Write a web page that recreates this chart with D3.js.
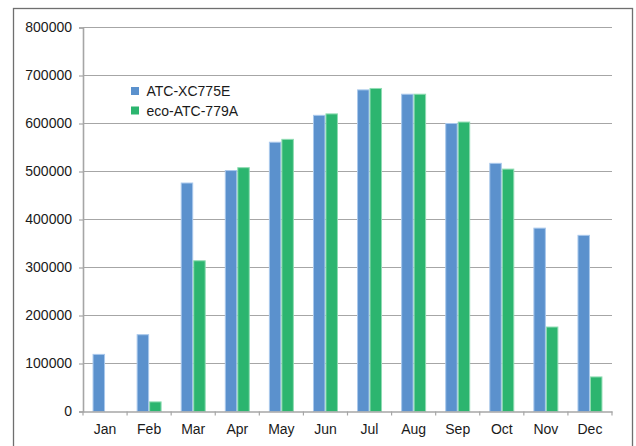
<!DOCTYPE html>
<html>
<head>
<meta charset="utf-8">
<script src="https://cdn.jsdelivr.net/npm/d3@7"></script>
<style>
  body { margin: 0; background: #fff; }
  svg { display: block; font-family: "Liberation Sans", Arial, sans-serif; }
</style>
</head>
<body>
<div id="chart"></div>
<script>
const width = 636;
const height = 446;

const months = ["Jan", "Feb", "Mar", "Apr", "May", "Jun", "Jul", "Aug", "Sep", "Oct", "Nov", "Dec"];
const seriesNames = ["ATC-XC775E", "eco-ATC-779A"];
const atcXC775E = [119000, 160000, 476000, 502000, 561000, 617000, 670000, 661000, 600000, 517000, 382000, 367000];
const ecoATC779A = [0, 20000, 314000, 508000, 567000, 620000, 673000, 661000, 603000, 505000, 176000, 72000];
const yTicks = [0, 100000, 200000, 300000, 400000, 500000, 600000, 700000, 800000];

const colors = ["#5b91cd", "#2cb56f"];
const strokes = ["#a9c8ec", "#8fdcb2"];
const gridColor = "#a6a6a6";

const margin = { top: 27.5, right: 24, bottom: 34.5, left: 83 };

const svg = d3.select("#chart")
    .append("svg")
    .attr("width", width)
    .attr("height", height);

// outer frame (bottom edge runs off the picture)
svg.append("rect")
    .attr("x", 13.5)
    .attr("y", 8.5)
    .attr("width", 619)
    .attr("height", 460)
    .attr("fill", "none")
    .attr("stroke", "#6f6f6f")
    .attr("stroke-width", 1.3);

const x0 = d3.scaleBand()
    .domain(months)
    .range([margin.left, width - margin.right])
    .padding(0);

const x1 = d3.scaleBand()
    .domain(seriesNames)
    .range([0, x0.bandwidth()])
    .paddingInner(0)
    .paddingOuter(0.765);

const y = d3.scaleLinear()
    .domain([0, 800000])
    .range([height - margin.bottom, margin.top]);

// gridlines
svg.append("g")
    .selectAll("line")
    .data(yTicks.slice(1))
    .enter()
    .append("line")
    .attr("x1", margin.left)
    .attr("x2", width - margin.right)
    .attr("y1", d => y(d))
    .attr("y2", d => y(d))
    .attr("stroke", gridColor)
    .attr("stroke-width", 1.2);

// y axis
const yAxis = svg.append("g")
    .attr("transform", `translate(${margin.left},0)`)
    .call(d3.axisLeft(y).tickValues(yTicks).tickSize(4).tickPadding(7).tickFormat(d3.format("d")));
yAxis.select(".domain").attr("stroke", gridColor).attr("stroke-width", 1.6);
yAxis.selectAll(".tick line").attr("stroke", gridColor).attr("stroke-width", 1.2);
yAxis.selectAll(".tick text").attr("fill", "#1a1a1a").style("font-size", "14px");

// bars
const series = [atcXC775E, ecoATC779A];
series.forEach((values, si) => {
    svg.append("g")
        .selectAll("rect")
        .data(values)
        .enter()
        .append("rect")
        .attr("x", (d, i) => x0(months[i]) + x1(seriesNames[si]) + 0.5)
        .attr("y", d => y(d))
        .attr("width", x1.bandwidth() - 1)
        .attr("height", d => y(0) - y(d))
        .attr("fill", colors[si])
        .attr("stroke", d => d > 0 ? strokes[si] : "none")
        .attr("stroke-width", 1);
});

// x axis
const xAxis = svg.append("g")
    .attr("transform", `translate(0,${y(0)})`)
    .call(d3.axisBottom(x0).tickSize(0).tickPadding(13));
xAxis.select(".domain").attr("stroke", gridColor).attr("stroke-width", 1.6);
xAxis.selectAll(".tick text").attr("fill", "#1a1a1a").style("font-size", "14px");

// tick marks on category boundaries
svg.append("g")
    .selectAll("line")
    .data(months.concat(["end"]))
    .enter()
    .append("line")
    .attr("x1", (d, i) => i < months.length ? x0(d) : x0(months[months.length - 1]) + x0.bandwidth())
    .attr("x2", (d, i) => i < months.length ? x0(d) : x0(months[months.length - 1]) + x0.bandwidth())
    .attr("y1", y(0))
    .attr("y2", y(0) + 4)
    .attr("stroke", gridColor)
    .attr("stroke-width", 1.2);

// legend
const legend = svg.append("g")
    .attr("transform", "translate(131,87)");
seriesNames.forEach((name, i) => {
    const row = legend.append("g").attr("transform", `translate(0,${i * 19.5})`);
    row.append("rect")
        .attr("width", 8)
        .attr("height", 8)
        .attr("fill", colors[i]);
    row.append("text")
        .attr("x", 15.5)
        .attr("y", 9)
        .attr("fill", "#1a1a1a")
        .style("font-size", "14px")
        .text(name);
});
</script>
</body>
</html>
